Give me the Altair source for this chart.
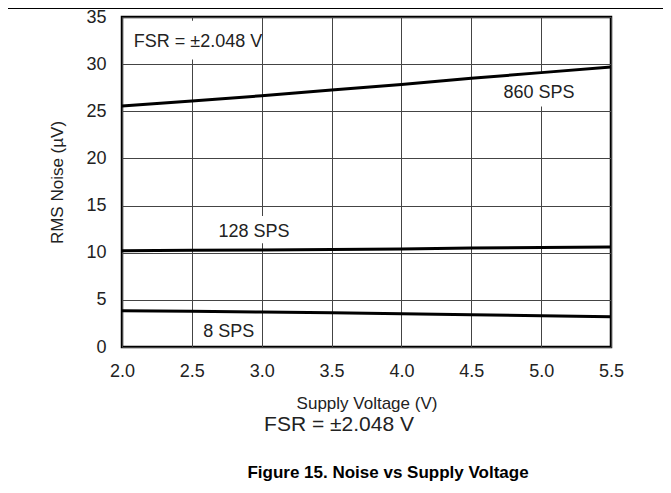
import altair as alt
import pandas as pd

# ---- data ----
voltage = [2.0, 2.5, 3.0, 3.5, 4.0, 4.5, 5.0, 5.5]
noise_860 = [25.55, 26.1, 26.65, 27.25, 27.85, 28.5, 29.1, 29.7]
noise_128 = [10.2, 10.25, 10.3, 10.35, 10.4, 10.5, 10.55, 10.6]
noise_8 = [3.85, 3.78, 3.7, 3.62, 3.52, 3.42, 3.32, 3.22]
series = ["860 SPS", "128 SPS", "8 SPS"]
y_ticks = [0, 5, 10, 15, 20, 25, 30, 35]

# in-plot annotations (data coordinates)
label_text = ["860 SPS", "128 SPS", "8 SPS", "FSR = ±2.048 V"]
label_x = [4.985, 2.945, 2.764, 2.544]
label_y = [26.9, 12.16, 1.62, 32.3]

# white boxes behind labels that break the grid lines
box_x = [4.72, 2.67, 2.05]
box_x2 = [5.26, 3.22, 2.95]
box_y = [25.5, 11.0, 30.5]
box_y2 = [29.0, 13.9, 34.6]

FONT = "Liberation Sans"

lines_df = pd.DataFrame({
    "v": voltage * 3,
    "n": noise_860 + noise_128 + noise_8,
    "s": [series[0]] * len(voltage) + [series[1]] * len(voltage) + [series[2]] * len(voltage),
})
labels_df = pd.DataFrame({"t": label_text, "x": label_x, "y": label_y})
boxes_df = pd.DataFrame({"x": box_x, "x2": box_x2, "y": box_y, "y2": box_y2})

xs = alt.Scale(domain=[2.0, 5.5], nice=False, zero=False)
ys = alt.Scale(domain=[0, 35], nice=False)
x_axis = alt.Axis(title="Supply Voltage (V)", values=voltage, format=".1f",
                  labelPadding=15, titlePadding=15, labelFlush=False)
y_axis = alt.Axis(title="RMS Noise (µV)", values=y_ticks,
                  labelPadding=16, titlePadding=19)

boxes = alt.Chart(boxes_df).mark_rect(color="white").encode(
    x=alt.X("x:Q", scale=xs, axis=x_axis),
    x2="x2:Q",
    y=alt.Y("y:Q", scale=ys, axis=y_axis),
    y2="y2:Q",
)

lines = alt.Chart(lines_df).mark_line(color="black", strokeWidth=3).encode(
    x=alt.X("v:Q", scale=xs, axis=x_axis),
    y=alt.Y("n:Q", scale=ys, axis=y_axis),
    detail="s:N",
)

labels = alt.Chart(labels_df).mark_text(
    font=FONT, fontSize=18, color="#222", align="center", baseline="middle"
).encode(
    x=alt.X("x:Q", scale=xs, axis=x_axis),
    y=alt.Y("y:Q", scale=ys, axis=y_axis),
    text="t:N",
)

bottom_fsr = alt.Chart(pd.DataFrame({"t": ["FSR = ±2.048 V"]})).mark_text(
    font=FONT, fontSize=21, color="#222", align="center", baseline="middle"
).encode(x=alt.value(217), y=alt.value(408), text="t:N")

caption = alt.Chart(pd.DataFrame({"t": ["Figure 15. Noise vs Supply Voltage"]})).mark_text(
    font=FONT, fontSize=17, fontWeight="bold", color="black", align="center", baseline="middle"
).encode(x=alt.value(266), y=alt.value(456), text="t:N")

top_rule = alt.Chart(pd.DataFrame({"a": [0]})).mark_rule(color="black", strokeWidth=1).encode(
    x=alt.value(-114), x2=alt.value(541), y=alt.value(-8.5)
)

chart = alt.layer(boxes, lines, labels, bottom_fsr, caption, top_rule).properties(
    width=489,
    height=330,
    autosize=alt.AutoSizeParams(type="none"),
    padding={"left": 114, "top": 9, "right": 52, "bottom": 138},
).configure_view(
    stroke="black", strokeWidth=2.5
).configure_axis(
    grid=True, gridColor="#444", gridWidth=1, domain=False, ticks=False,
    labelFont=FONT, labelFontSize=18, labelColor="#222",
    titleFont=FONT, titleFontSize=17, titleFontWeight="normal", titleColor="#222",
)

chart.save("out.html", embed_options={"renderer": "svg", "actions": False})
